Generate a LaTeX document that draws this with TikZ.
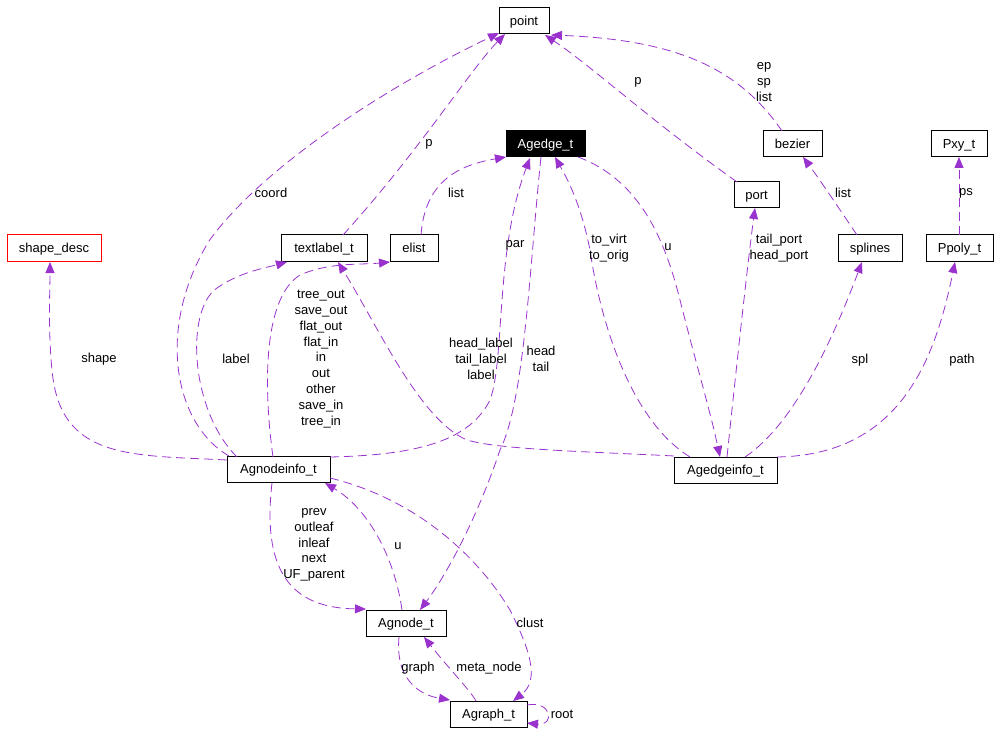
\documentclass[tikz,border=0pt]{standalone}
\usepackage{fontspec}
\setmainfont{Liberation Sans}
\usetikzlibrary{arrows.meta}
\definecolor{edgec}{HTML}{9A32CD}
\begin{document}
\begin{tikzpicture}[x=1pt,y=-1pt,
 cls/.style={draw=black, line width=1pt, rectangle, minimum height=26pt, inner sep=0pt, text height=9.5pt, text depth=0.6pt, font=\fontsize{13}{15.8}\selectfont},
 rel/.style={draw=edgec, line width=0.8pt, dash pattern=on 9pt off 5pt, -{Triangle[length=11pt,width=9pt]}, fill=none},
 lab/.style={inner sep=0pt, align=center, font=\fontsize{13}{15.8}\selectfont}]
\useasboundingbox (0,0) rectangle (1000,735);

% classes
\node[cls, minimum width=50pt] (point) at (524,21) {point};
\node[cls, minimum width=79pt, fill=black, text=white] (agedge) at (545.5,144) {Agedge\_t};
\node[cls, minimum width=59pt] (bezier) at (792.5,144) {bezier};
\node[cls, minimum width=56pt] (pxy) at (959,144) {Pxy\_t};
\node[cls, minimum width=45pt] (port) at (756.5,195) {port};
\node[cls, minimum width=64pt] (splines) at (870,248) {splines};
\node[cls, minimum width=67pt] (ppoly) at (959.5,248) {Ppoly\_t};
\node[cls, minimum width=94pt, draw=red] (shape) at (54,248) {shape\_desc};
\node[cls, minimum width=86pt] (textlabel) at (324,248) {textlabel\_t};
\node[cls, minimum width=48pt] (elist) at (414,248) {elist};
\node[cls, minimum width=103pt] (agnodeinfo) at (278.5,469.5) {Agnodeinfo\_t};
\node[cls, minimum width=103pt] (agedgeinfo) at (725.5,470) {Agedgeinfo\_t};
\node[cls, minimum width=80pt] (agnode) at (406,623.5) {Agnode\_t};
\node[cls, minimum width=77pt] (agraph) at (488.5,714.5) {Agraph\_t};

% connector end points
\coordinate (c1s) at (229,456);   \coordinate (c1e) at (499,33);
\coordinate (c2s) at (343,235);   \coordinate (c2e) at (505,34);
\coordinate (c3s) at (421,235);   \coordinate (c3e) at (506,157);
\coordinate (c4s) at (737,182);   \coordinate (c4e) at (545,35);
\coordinate (c5s) at (782,131);   \coordinate (c5e) at (551,35);
\coordinate (c6s) at (857,235);   \coordinate (c6e) at (803,157);
\coordinate (c7s) at (959,235);   \coordinate (c7e) at (959,157);
\coordinate (c8s) at (727,457);   \coordinate (c8e) at (755,208);
\coordinate (c9s) at (745,457);   \coordinate (c9e) at (862,262);
\coordinate (c10s) at (777,457);  \coordinate (c10e) at (955,262);
\coordinate (c11s) at (674,456);  \coordinate (c11e) at (338,262);
\coordinate (c12s) at (330,457);  \coordinate (c12e) at (530,158);
\coordinate (c13s) at (541,157);  \coordinate (c13e) at (420,610);
\coordinate (c14s) at (690,457);  \coordinate (c14e) at (555,157);
\coordinate (c15s) at (578,157);  \coordinate (c15e) at (720,457);
\coordinate (c16s) at (273,457);  \coordinate (c16e) at (390,262);
\coordinate (c17s) at (237,457);  \coordinate (c17e) at (287,262);
\coordinate (c18s) at (227,460);  \coordinate (c18e) at (50,262);
\coordinate (c19s) at (272,483);  \coordinate (c19e) at (366,609);
\coordinate (c20s) at (402,610);  \coordinate (c20e) at (325,483);
\coordinate (c21s) at (330,478);  \coordinate (c21e) at (513,701);
\coordinate (c22s) at (399,637);  \coordinate (c22e) at (450,700);
\coordinate (c23s) at (476,701);  \coordinate (c23e) at (424,637);
\coordinate (c24s) at (527,705);  \coordinate (c24e) at (527,723);

% connectors
\draw[rel] (c1s) .. controls (175,425) and (155,330) .. (209,241) .. controls (260,170) and (380,90) .. (c1e);
\draw[rel] (c2s) .. controls (420,150) and (470,70) .. (c2e);
\draw[rel] (c3s) .. controls (425,180) and (460,165) .. (c3e);
\draw[rel] (c4s) .. controls (650,120) and (590,65) .. (c4e);
\draw[rel] (c5s) .. controls (740,70) and (680,40) .. (c5e);
\draw[rel] (c6s) .. controls (840,210) and (820,180) .. (c6e);
\draw[rel] (c7s) -- (c7e);
\draw[rel] (c8s) .. controls (735,380) and (748,260) .. (c8e);
\draw[rel] (c9s) .. controls (800,420) and (840,320) .. (c9e);
\draw[rel] (c10s) .. controls (900,455) and (935,360) .. (c10e);
\draw[rel] (c11s) .. controls (600,452) and (500,450) .. (467,440) .. controls (420,420) and (380,330) .. (c11e);
\draw[rel] (c12s) .. controls (420,455) and (470,440) .. (490,400) .. controls (505,360) and (495,250) .. (c12e);
\draw[rel] (c13s) .. controls (530,260) and (525,400) .. (500,450) .. controls (480,510) and (450,570) .. (c13e);
\draw[rel] (c14s) .. controls (630,420) and (600,320) .. (590,250) .. controls (580,200) and (565,175) .. (c14e);
\draw[rel] (c15s) .. controls (640,180) and (665,240) .. (680,300) .. controls (695,360) and (710,410) .. (c15e);
\draw[rel] (c16s) .. controls (265,400) and (260,300) .. (300,275) .. controls (330,262) and (360,265) .. (c16e);
\draw[rel] (c17s) .. controls (190,410) and (185,310) .. (217,288) .. controls (240,272) and (265,268) .. (c17e);
\draw[rel] (c18s) .. controls (130,455) and (60,460) .. (52,370) .. controls (48,330) and (50,290) .. (c18e);
\draw[rel] (c19s) .. controls (262,570) and (290,608) .. (c19e);
\draw[rel] (c20s) .. controls (395,560) and (370,510) .. (c20e);
\draw[rel] (c21s) .. controls (420,500) and (480,560) .. (510,610) .. controls (530,650) and (540,680) .. (c21e);
\draw[rel] (c22s) .. controls (395,680) and (420,695) .. (c22e);
\draw[rel] (c23s) .. controls (470,690) and (450,670) .. (c23e);
\draw[rel] (c24s) .. controls (552,700) and (555,726) .. (c24e);

% labels
\node[lab] (lcoord) at (271,193) {coord};
\node[lab] (lp1) at (429,144) {p};
\node[lab] (llist1) at (456,193) {list};
\node[lab] (lp2) at (638,82) {p};
\node[lab] (lep) at (764,82) {ep\\sp\\list};
\node[lab] (llist2) at (843,193) {list};
\node[lab] (lps) at (966,193) {ps};
\node[lab] (lport) at (779,248) {tail\_port\\head\_port};
\node[lab] (lspl) at (860,360) {spl};
\node[lab] (lpath) at (962,360) {path};
\node[lab] (lhl) at (481,359) {head\_label\\tail\_label\\label};
\node[lab] (lpar) at (515,245) {par};
\node[lab] (lht) at (541,359) {head\\tail};
\node[lab] (lvirt) at (609,248) {to\_virt\\to\_orig};
\node[lab] (lu1) at (668,247) {u};
\node[lab] (ltree) at (321,359) {tree\_out\\save\_out\\flat\_out\\flat\_in\\in\\out\\other\\save\_in\\tree\_in};
\node[lab] (llabel) at (236,359) {label};
\node[lab] (lshape) at (99,359) {shape};
\node[lab] (lprev) at (314,545) {prev\\outleaf\\inleaf\\next\\UF\_parent};
\node[lab] (lu2) at (398,546) {u};
\node[lab] (lclust) at (530,623) {clust};
\node[lab] (lgraph) at (418,668) {graph};
\node[lab] (lmeta) at (489,668) {meta\_node};
\node[lab] (lroot) at (562,714) {root};
\end{tikzpicture}
\end{document}
